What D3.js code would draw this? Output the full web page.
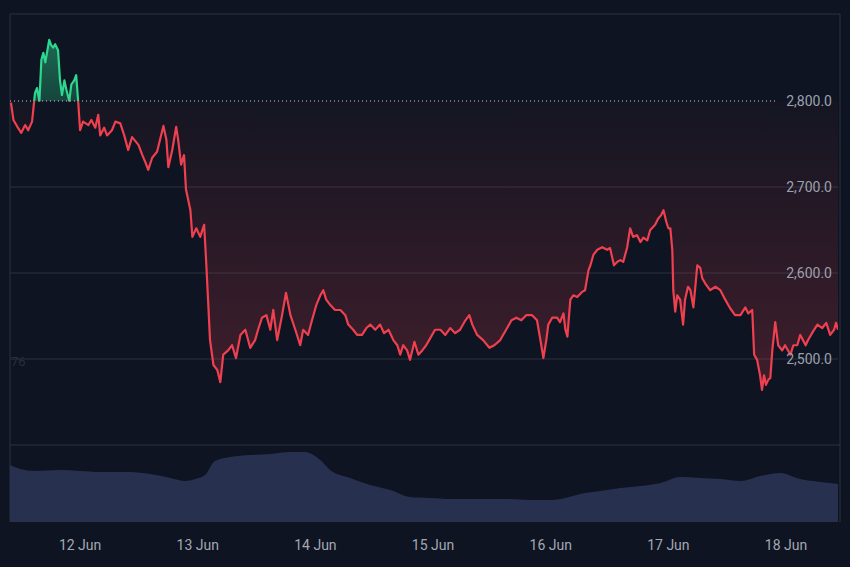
<!DOCTYPE html>
<html>
<head>
<meta charset="utf-8">
<script src="https://cdn.jsdelivr.net/npm/d3@7"></script>
<style>
  body { margin: 0; background: #0e1421; }
  svg { display: block; font-family: Roboto, "Noto Sans", sans-serif; }
</style>
</head>
<body>
<div id="chart"></div>
<script>
// hours since 11 Jun 00:00 and price
var priceHours = [9.9,10.4,11.2,12.0,12.8,13.4,14.2,14.6,14.8,15.2,15.7,16.1,16.5,16.9,17.7,18.1,18.5,18.9,19.5,19.9,20.3,20.8,21.2,21.8,22.2,22.8,23.2,23.6,
  24.0,24.6,25.7,26.3,27.1,27.7,28.1,28.9,29.5,30.5,31.2,32.2,33.0,33.8,34.6,35.9,36.7,37.3,37.9,38.7,39.7,40.3,41.0,41.6,42.0,42.8,43.6,44.0,44.6,45.2,45.6,46.5,46.9,47.7,
  48.5,49.3,49.7,50.1,50.5,51.2,52.0,52.6,53.2,54.2,55.0,55.8,56.7,57.7,58.7,59.7,60.3,61.1,62.0,62.8,63.4,64.2,65.2,66.0,66.9,67.9,68.9,69.5,70.5,71.3,
  72.2,73.0,73.6,74.2,75.0,76.0,77.1,78.1,78.7,79.7,80.5,81.5,82.4,83.2,84.2,85.2,86.0,86.9,87.9,88.7,89.3,89.9,90.7,91.3,92.2,93.0,93.8,94.6,95.4,
  96.4,97.5,98.5,99.5,100.5,101.5,102.6,103.4,104.0,105.0,106.2,107.5,108.5,109.7,110.9,112.0,113.0,114.0,115.0,116.2,117.2,117.9,118.5,119.1,119.5,
  120.3,121.3,121.9,122.6,123.0,123.4,124.0,124.6,125.4,126.4,127.0,127.7,128.1,128.7,129.5,130.5,131.5,132.1,132.9,133.6,134.2,134.8,135.6,136.2,136.8,137.6,138.3,138.9,139.7,140.3,141.3,141.9,142.5,143.0,143.6,
  144.0,144.4,144.8,145.0,145.4,145.8,146.4,147.0,147.4,148.0,148.5,149.1,149.5,149.9,150.5,150.9,151.5,152.5,153.6,154.6,155.6,156.6,157.6,158.7,159.7,160.3,161.1,161.5,162.1,162.7,163.1,163.5,163.9,164.4,164.8,165.2,165.8,
  166.4,167.2,167.8,168.9,169.5,170.3,170.9,172.0,172.5,173.3,174.4,175.4,176.2,177.0,177.8,178.2,178.6];
var priceValues = [2798,2778,2770,2763,2772,2766,2776,2798,2809,2815,2800,2848,2856,2845,2871,2865,2862,2866,2859,2824,2807,2824,2813,2800,2819,2824,2830,2800,
  2766,2776,2772,2778,2769,2784,2760,2769,2760,2766,2776,2774,2760,2743,2758,2749,2737,2729,2720,2734,2741,2755,2771,2755,2723,2743,2770,2755,2726,2737,2697,2673,2642,2652,
  2642,2656,2615,2569,2522,2493,2487,2473,2505,2510,2516,2501,2528,2534,2513,2522,2534,2548,2551,2534,2557,2522,2551,2577,2551,2534,2516,2534,2528,2545,
  2563,2574,2580,2569,2563,2557,2557,2551,2540,2534,2528,2528,2536,2540,2534,2540,2530,2534,2522,2516,2505,2516,2510,2499,2520,2505,2510,2516,2524,
  2534,2534,2528,2536,2530,2534,2545,2551,2540,2528,2522,2513,2516,2522,2534,2545,2548,2545,2551,2551,2545,2522,2501,2522,2540,
  2548,2548,2543,2553,2534,2526,2569,2574,2572,2578,2580,2603,2609,2621,2627,2630,2627,2629,2609,2613,2615,2613,2630,2652,2642,2644,2636,2641,2638,2650,2656,2663,2667,2673,2659,
  2652,2652,2627,2580,2555,2574,2569,2540,2569,2584,2580,2560,2584,2609,2606,2594,2588,2580,2584,2580,2569,2559,2551,2551,2560,2553,2557,2505,2499,2481,2464,2481,2470,2476,2478,2510,2543,
  2516,2510,2516,2505,2516,2516,2528,2516,2522,2530,2540,2536,2542,2528,2534,2542,2534];

var volumeHours = [9.7,11.8,14.8,19.9,24.0,28.1,34.2,38.3,42.4,45.4,47.5,49.5,51.5,54.6,58.7,62.8,66.8,69.9,73.0,75.0,79.1,83.2,87.3,91.3,95.4,99.5,103.6,107.7,111.8,115.9,119.9,123.0,126.0,130.1,134.2,138.3,142.4,146.4,150.5,154.6,158.7,162.8,166.8,170.9,175.0,178.6];
var volumeValues = [57,53,51,52,51,50,50,48,44,41,43,47,61,65,67,68,70,70,62,52,44,37,32,25,24,23,23,23,23,22,22,24,28,31,34,36,39,45,44,43,41,46,49,43,40,38];

var baseline = 2800;
var yTicks = [2800, 2700, 2600, 2500];
var dayTicks = [12, 13, 14, 15, 16, 17, 18];

var W = 850, H = 567;
var padLeft = 10, padRight = 838, padTop = 14, paneBottom = 445, volBottom = 522;
var base = new Date(2024, 5, 11);
function hoursToDate(h) { return new Date(base.getTime() + h * 3600000); }

var x = d3.scaleTime()
  .domain([hoursToDate(9.7), hoursToDate(178.6)])
  .range([padLeft, padRight]);
var y = d3.scaleLinear().domain([2500, 2800]).range([359, 101]);
var yVol = d3.scaleLinear().domain([0, 70]).range([volBottom, volBottom - 70]);

var prices = priceHours.map(function(h, i) { return { t: hoursToDate(h), v: priceValues[i] }; });
var volumes = volumeHours.map(function(h, i) { return { t: hoursToDate(h), v: volumeValues[i] }; });

var svg = d3.select("#chart").append("svg").attr("width", W).attr("height", H);
svg.append("rect").attr("width", W).attr("height", H).attr("fill", "#0e1421");

var defs = svg.append("defs");
var redGrad = defs.append("linearGradient").attr("id", "redGrad")
  .attr("gradientUnits", "userSpaceOnUse").attr("x1", 0).attr("x2", 0)
  .attr("y1", y(baseline)).attr("y2", y(2470));
redGrad.append("stop").attr("offset", 0).attr("stop-color", "#ef4050").attr("stop-opacity", 0.03);
redGrad.append("stop").attr("offset", 1).attr("stop-color", "#ef4050").attr("stop-opacity", 0.22);
var greenGrad = defs.append("linearGradient").attr("id", "greenGrad")
  .attr("gradientUnits", "userSpaceOnUse").attr("x1", 0).attr("x2", 0)
  .attr("y1", y(2875)).attr("y2", y(baseline));
greenGrad.append("stop").attr("offset", 0).attr("stop-color", "#2ed68f").attr("stop-opacity", 0.45);
greenGrad.append("stop").attr("offset", 1).attr("stop-color", "#2ed68f").attr("stop-opacity", 0.25);

defs.append("clipPath").attr("id", "clipAbove").append("rect")
  .attr("x", padLeft).attr("y", padTop).attr("width", padRight - padLeft).attr("height", y(baseline) - padTop);
defs.append("clipPath").attr("id", "clipBelow").append("rect")
  .attr("x", padLeft).attr("y", y(baseline)).attr("width", padRight - padLeft).attr("height", paneBottom - y(baseline));

// grid
svg.selectAll(".grid").data(yTicks.slice(1)).enter().append("line")
  .attr("x1", padLeft).attr("x2", padRight)
  .attr("y1", function(d) { return y(d); }).attr("y2", function(d) { return y(d); })
  .attr("stroke", "#2a303e").attr("stroke-width", 1);

// frame
svg.append("line").attr("x1", padLeft).attr("x2", 840).attr("y1", padTop).attr("y2", padTop).attr("stroke", "#2b3140");
svg.append("line").attr("x1", padLeft).attr("x2", 840).attr("y1", paneBottom).attr("y2", paneBottom).attr("stroke", "#2b3140");
svg.append("line").attr("x1", padLeft).attr("x2", padLeft).attr("y1", padTop).attr("y2", volBottom).attr("stroke", "#2b3140");
svg.append("line").attr("x1", 840).attr("x2", 840).attr("y1", padTop).attr("y2", volBottom).attr("stroke", "#2b3140");

// volume
svg.append("path").datum(volumes)
  .attr("d", d3.area().x(function(d) { return x(d.t); }).y0(volBottom).y1(function(d) { return yVol(d.v); }).curve(d3.curveMonotoneX))
  .attr("fill", "#27304f");

// baseline areas
var area = d3.area().x(function(d) { return x(d.t); }).y0(y(baseline)).y1(function(d) { return y(d.v); });
svg.append("path").datum(prices).attr("d", area).attr("fill", "url(#redGrad)").attr("clip-path", "url(#clipBelow)");
svg.append("path").datum(prices).attr("d", area).attr("fill", "url(#greenGrad)").attr("clip-path", "url(#clipAbove)");

svg.append("line").attr("x1", padLeft).attr("x2", 775)
  .attr("y1", y(baseline)).attr("y2", y(baseline))
  .attr("stroke", "#c9ccd4").attr("stroke-width", 1).attr("stroke-dasharray", "1,3");

var line = d3.line().x(function(d) { return x(d.t); }).y(function(d) { return y(d.v); });
svg.append("path").datum(prices).attr("d", line).attr("fill", "none")
  .attr("stroke", "#ef4050").attr("stroke-width", 2.2).attr("stroke-linejoin", "round").attr("clip-path", "url(#clipBelow)");
svg.append("path").datum(prices).attr("d", line).attr("fill", "none")
  .attr("stroke", "#2ed68f").attr("stroke-width", 2.2).attr("stroke-linejoin", "round").attr("clip-path", "url(#clipAbove)");

// price labels
var fmt = d3.format(",.1f");
svg.selectAll(".ylab").data(yTicks).enter().append("text")
  .attr("x", 832).attr("y", function(d) { return y(d) + 5; })
  .attr("text-anchor", "end").attr("font-size", 14).attr("fill", "#9ca1ad")
  .text(function(d) { return fmt(d); });

svg.append("text").attr("x", 11).attr("y", 366).attr("font-size", 13)
  .attr("fill", "#2a2f3a").text("76");

// date labels
svg.selectAll(".xlab").data(dayTicks).enter().append("text")
  .attr("x", function(d) { return x(hoursToDate((d - 11) * 24)); }).attr("y", 550)
  .attr("text-anchor", "middle").attr("font-size", 14).attr("fill", "#a3a8b4")
  .text(function(d) { return d + " Jun"; });
</script>
</body>
</html>
